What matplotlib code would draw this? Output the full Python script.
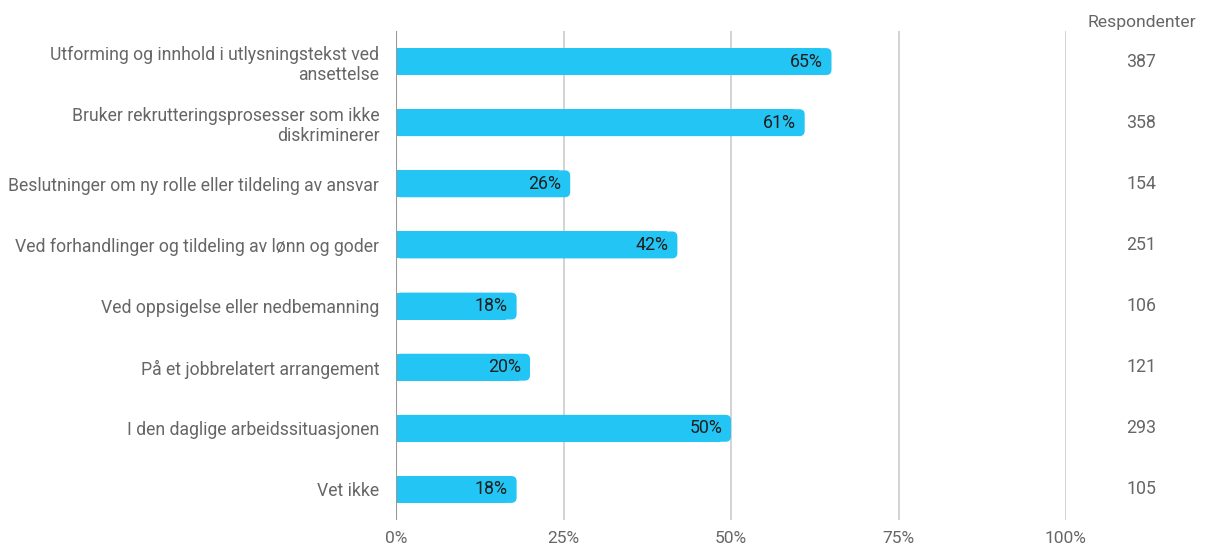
import numpy as np
import matplotlib.pyplot as plt
from matplotlib.patches import FancyBboxPatch, Rectangle

plt.rcParams['font.family'] = ['Roboto', 'DejaVu Sans']

categories = [
    'Utforming og innhold i utlysningstekst ved\nansettelse',
    'Bruker rekrutteringsprosesser som ikke\ndiskriminerer',
    'Beslutninger om ny rolle eller tildeling av ansvar',
    'Ved forhandlinger og tildeling av lønn og goder',
    'Ved oppsigelse eller nedbemanning',
    'På et jobbrelatert arrangement',
    'I den daglige arbeidssituasjonen',
    'Vet ikke',
]
shares = [65, 61, 26, 42, 18, 20, 50, 18]
respondents = [387, 358, 154, 251, 106, 121, 293, 105]
x_ticks = [0, 25, 50, 75, 100]

bar_color = '#22c5f3'
grey = '#666666'

W, H = 1205, 547
fig = plt.figure(figsize=(W / 100, H / 100), dpi=100)
ax = fig.add_axes([396 / W, 1 - 520 / H, 670 / W, 489 / H])

ax.set_xlim(0, 100)
ax.set_ylim(len(categories) - 0.5, -0.5)

bar_h = 0.44
# pixels per data unit, used to keep the rounded corners circular
px_x = 670 / 100
px_y = 489 / len(categories)
radius = 0.8
for i, v in enumerate(shares):
    ax.add_patch(FancyBboxPatch((0, i - bar_h / 2), v, bar_h,
                                boxstyle='round,pad=0,rounding_size=%g' % radius,
                                mutation_aspect=px_x / px_y,
                                facecolor=bar_color, edgecolor='none', zorder=3))
    # square off the left end
    ax.add_patch(Rectangle((0, i - bar_h / 2), v - 2 * radius, bar_h,
                           facecolor=bar_color, edgecolor='none', zorder=3))
    ax.text(v - 1.3, i, '%d%%' % v, ha='right', va='center',
            fontsize=12.8, color='#1f1f1f', zorder=4)

for t in x_ticks[1:]:
    ax.axvline(t, color='#cccccc', lw=1.2, zorder=1)
ax.axvline(0, color='#999999', lw=1.5, zorder=5)

ax.set_yticks(range(len(categories)))
ax.set_yticklabels(categories, fontsize=12.7, color=grey, ha='right')
ax.tick_params(axis='y', length=0, pad=12)
ax.set_xticks(x_ticks)
ax.set_xticklabels(['%d%%' % t for t in x_ticks], fontsize=12.5, color=grey)
ax.tick_params(axis='x', length=0, pad=8)

for s in ax.spines.values():
    s.set_visible(False)

# respondent counts to the right of the plot
for i, n in enumerate(respondents):
    ax.text(1.112, i, str(n), transform=ax.get_yaxis_transform(),
            ha='center', va='center', fontsize=12.8, color=grey)
fig.text(1142 / W, 1 - 22 / H, 'Respondenter', ha='center', va='center',
         fontsize=12.6, color=grey)

fig.savefig('out.png', dpi=100, facecolor='white')
